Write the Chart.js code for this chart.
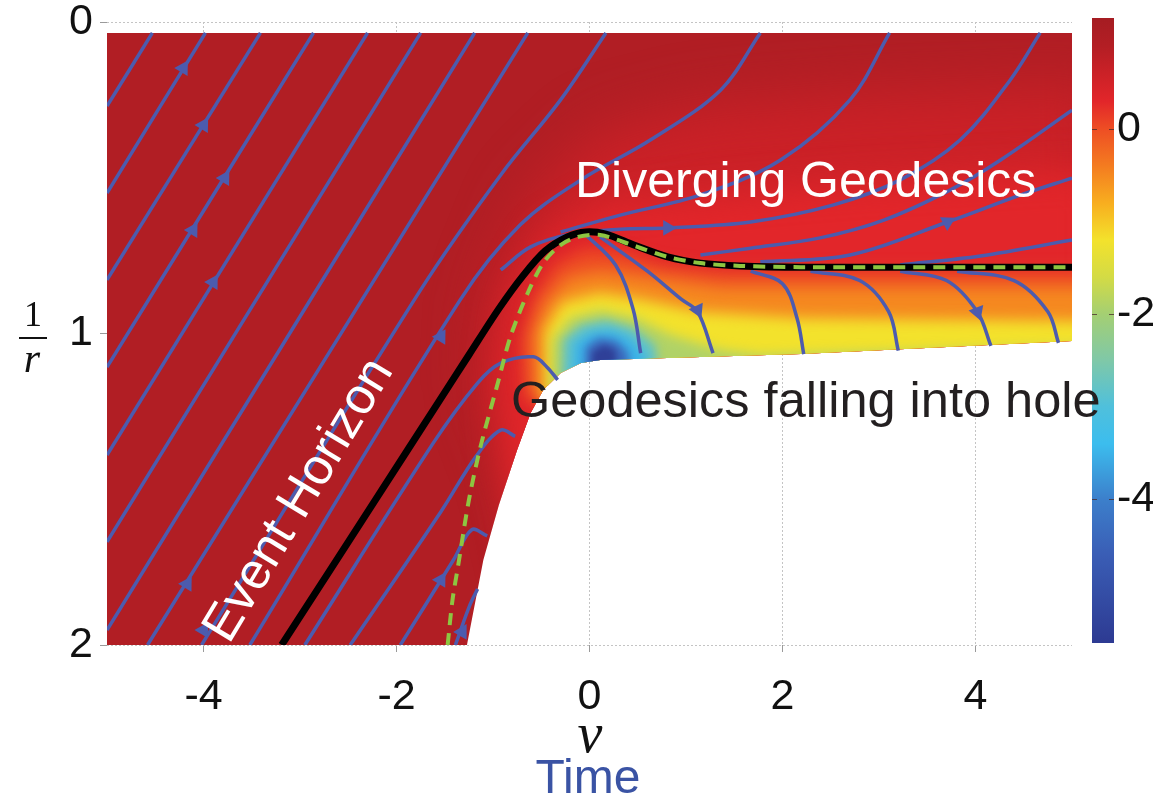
<!DOCTYPE html>
<html>
<head>
<meta charset="utf-8">
<script src="https://cdn.jsdelivr.net/npm/chart.js@4/dist/chart.umd.min.js"></script>
<style>
html, body { margin: 0; padding: 0; background: #fff; }
#wrap { position: relative; width: 1153px; height: 798px; }
canvas { position: absolute; top: 0; }
#main { left: 0; z-index: 2; }
#bar { left: 1053px; z-index: 1; }
</style>
</head>
<body>
<div id="wrap">
  <canvas id="main" width="1153" height="798"></canvas>
  <canvas id="bar" width="100" height="798"></canvas>
</div>
<script>
// axes
const xTicks = [-4, -2, 0, 2, 4];
const yTicks = [0, 1, 2];
const barTicks = [0, -2, -4];
const barRange = [-5.55, 1.2];

// colour map of the colour bar (value -> colour)
const cmapValues = [1.2, 0.9, 0.6, 0.3, 0.0, -0.4, -0.8, -1.2, -1.6, -2.0, -2.5, -3.0, -3.4, -4.0, -4.6, -5.55];
const cmapColors = ['#a51c22', '#b31e24', '#cb2127', '#e2262a', '#ee4e24', '#f47c20', '#f8ae1f', '#f3e22c',
                    '#d3db45', '#a4cf73', '#7fc8a8', '#4fc0dc', '#3cbdee', '#3c7fcb', '#3a5db5', '#2d3a92'];

// lower edge of the computed region (v, 1/r)
const domainEdge = [[-5, 2], [-1.27, 2], [-1.10, 1.727], [-0.94, 1.551], [-0.75, 1.374], [-0.61, 1.255],
                    [-0.48, 1.181], [-0.30, 1.127], [-0.09, 1.095], [0.11, 1.085], [2.19, 1.066], [5, 1.024]];
const domainTop = 0.035;
const backgroundLevel = 0.95;

// contours of the field
const fieldLevels = [0.6, 0.3, 0.0, -0.5, -1.2, -1.9, -2.8, -3.5, -4.4, -5.4];
const fieldContours = [
  [[-0.3, 2], [-0.72, 1.44], [-1.08, 1.15], [-1.03, 0.89], [-0.61, 0.57], [0.11, 0.35], [1.15, 0.27], [2.7, 0.23], [5.3, 0.2], [5.3, 2]],
  [[-0.51, 2], [-0.87, 1.44], [-0.95, 1.15], [-0.82, 0.89], [-0.46, 0.7], [0.11, 0.59], [1.15, 0.56], [2.7, 0.52], [5.3, 0.47], [5.3, 2]],
  [[-0.15, 1.28], [-0.66, 1.2], [-0.69, 1.02], [-0.56, 0.88], [-0.35, 0.78], [-0.04, 0.73], [0.32, 0.74], [0.74, 0.78], [1.36, 0.8], [5.3, 0.8], [5.3, 1.28]],
  [[-0.15, 1.28], [-0.56, 1.2], [-0.58, 1.0], [-0.46, 0.9], [-0.22, 0.82], [0.11, 0.8], [0.63, 0.82], [1.36, 0.85], [5.3, 0.85], [5.3, 1.28]],
  [[-0.15, 1.28], [-0.46, 1.2], [-0.46, 0.99], [-0.28, 0.9], [0.11, 0.87], [0.53, 0.89], [1.15, 0.93], [2.19, 0.95], [5.3, 0.96], [5.3, 1.28]],
  [[-0.40, 1.28], [-0.38, 1.02], [-0.20, 0.95], [0.11, 0.925], [0.48, 0.95], [0.84, 1.005], [1.36, 1.053], [1.77, 1.069], [5.3, 1.04], [5.3, 1.28]],
  [[-0.30, 1.28], [-0.27, 1.02], [-0.09, 0.973], [0.17, 0.957], [0.45, 0.982], [0.68, 1.037], [0.79, 1.28]],
  [[-0.20, 1.28], [-0.16, 1.03], [0.01, 0.995], [0.22, 0.989], [0.42, 1.011], [0.58, 1.069], [0.63, 1.28]],
  [[-0.07, 1.28], [-0.04, 1.043], [0.09, 1.014], [0.27, 1.021], [0.40, 1.059], [0.45, 1.28]],
  [[0.01, 1.28], [0.03, 1.059], [0.15, 1.037], [0.27, 1.053], [0.32, 1.28]]
];
const fieldBlur = [28, 18, 8, 8, 7, 6, 5, 5, 4, 3];

const horizon = [[-3.19, 2.0], [-2.22, 1.535], [-1.55, 1.213], [-1.25, 1.069], [-0.94, 0.921],
                 [-0.69, 0.815], [-0.46, 0.735], [-0.23, 0.690], [-0.04, 0.674], [0.17, 0.681], [0.46, 0.716],
                 [0.81, 0.754], [1.15, 0.774], [1.56, 0.783], [2.19, 0.787], [5, 0.787]];
const apparentHorizon = [[-1.47, 2.0], [-1.42, 1.856], [-1.36, 1.743], [-1.25, 1.535], [-1.13, 1.364], [-0.95, 1.159],
                         [-0.82, 1.011], [-0.64, 0.870], [-0.48, 0.774], [-0.30, 0.716], [-0.12, 0.690], [0.11, 0.684],
                         [0.46, 0.718], [0.81, 0.754], [1.15, 0.774], [1.56, 0.783], [2.19, 0.787], [5, 0.787]];

const streamlines = [
  [[-5, 0.27], [-4.53, 0.035]],
  [[-5, 0.549], [-3.98, 0.035]],
  [[-5, 0.828], [-3.41, 0.035]],
  [[-5, 1.108], [-2.86, 0.035]],
  [[-5, 1.39], [-2.30, 0.035]],
  [[-5, 1.669], [-1.75, 0.035]],
  [[-5, 1.952], [-1.19, 0.035]],
  [[-4.58, 2], [-0.64, 0.035]],
  [[-4.02, 2], [-1.75, 0.86], [-0.92, 0.491], [-0.30, 0.25], [0.17, 0.035]],
  [[-3.52, 2], [-1.34, 0.892], [-0.72, 0.652], [-0.09, 0.507], [0.63, 0.379], [1.36, 0.218], [1.77, 0.035]],
  [[-0.30, 0.674], [0.32, 0.62], [1.15, 0.555], [1.98, 0.443], [2.70, 0.25], [3.11, 0.035]],
  [[-0.92, 0.796], [-0.61, 0.722], [-0.20, 0.681], [0.32, 0.665], [0.81, 0.661], [1.67, 0.642], [2.53, 0.587],
   [3.22, 0.507], [3.84, 0.379], [4.36, 0.186], [4.67, 0.035]],
  [[1.15, 0.748], [1.67, 0.726], [2.39, 0.693], [3.05, 0.636], [3.74, 0.539], [4.26, 0.443], [5.0, 0.283]],
  [[1.77, 0.770], [2.70, 0.748], [3.71, 0.642], [4.47, 0.555], [5.0, 0.501]],
  [[3.22, 0.780], [4.05, 0.751], [5.0, 0.700]],
  [[-2.95, 2], [-1.62, 1.352], [-1.16, 1.159], [-0.92, 1.095], [-0.58, 1.075], [-0.44, 1.108], [-0.33, 1.149]],
  [[-2.48, 2], [-1.54, 1.572], [-1.17, 1.392], [-0.92, 1.31], [-0.77, 1.33]],
  [[-1.96, 2], [-1.41, 1.727], [-1.22, 1.63], [-1.06, 1.65]],
  [[-1.39, 2], [-1.24, 1.872], [-1.16, 1.82]],
  [[-0.07, 0.674], [0.27, 0.78], [0.45, 0.92], [0.53, 1.063]],
  [[0.11, 0.69], [0.6, 0.8], [0.95, 0.89], [1.12, 0.93], [1.28, 1.063]],
  [[1.67, 0.80], [2.0, 0.84], [2.15, 0.95], [2.22, 1.066]],
  [[2.29, 0.80], [2.8, 0.83], [3.1, 0.93], [3.2, 1.055]],
  [[3.22, 0.80], [3.7, 0.83], [4.02, 0.931], [4.16, 1.04]],
  [[3.81, 0.80], [4.4, 0.83], [4.75, 0.93], [4.86, 1.03]]
];

// arrow heads: v, 1/r, direction on screen (degrees, clockwise from up)
const arrows = [
  [-4.21, 0.148, 31], [-4.0, 0.331, 31], [-3.78, 0.501, 31], [-4.11, 0.668, 31], [-3.90, 0.835, 31],
  [-1.54, 1.011, 31], [-4.17, 1.804, 31], [-4.0, 1.952, 31], [-1.54, 1.791, 31], [-1.32, 1.958, 30],
  [0.81, 0.661, 90], [3.71, 0.642, 62], [1.12, 0.925, 155], [4.02, 0.931, 160]
];

const lineBlue = '#4c5bae';

function hexToRgb(h) {
  const n = parseInt(h.slice(1), 16);
  return [n >> 16 & 255, n >> 8 & 255, n & 255];
}

function colourAt(val) {
  if (val >= cmapValues[0]) return cmapColors[0];
  for (let i = 1; i < cmapValues.length; i++) {
    if (val >= cmapValues[i]) {
      const t = (val - cmapValues[i]) / (cmapValues[i - 1] - cmapValues[i]);
      const a = hexToRgb(cmapColors[i]), b = hexToRgb(cmapColors[i - 1]);
      const c = a.map((k, j) => Math.round(k + (b[j] - k) * t));
      return 'rgb(' + c.join(',') + ')';
    }
  }
  return cmapColors[cmapColors.length - 1];
}

const toXY = pts => pts.map(p => ({x: p[0], y: p[1]}));

// blur + clip the field layers to the computed region
const fieldFx = {
  id: 'fieldFx',
  beforeDatasetDraw(chart, args) {
    const ds = chart.data.datasets[args.index];
    if (!ds.blur) return;
    const ctx = chart.ctx, sx = chart.scales.x, sy = chart.scales.y;
    ctx.save();
    ctx.beginPath();
    domainEdge.forEach((p, i) => {
      const px = sx.getPixelForValue(p[0]), py = sy.getPixelForValue(p[1]);
      if (i) ctx.lineTo(px, py); else ctx.moveTo(px, py);
    });
    ctx.lineTo(sx.getPixelForValue(domainEdge[domainEdge.length - 1][0]), sy.getPixelForValue(domainTop));
    ctx.lineTo(sx.getPixelForValue(domainEdge[0][0]), sy.getPixelForValue(domainTop));
    ctx.closePath();
    ctx.clip();
    ctx.filter = 'blur(' + ds.blur + 'px)';
  },
  afterDatasetDraw(chart, args) {
    const ds = chart.data.datasets[args.index];
    if (ds.blur) chart.ctx.restore();
  }
};
// our hook has to run before the filler draws the areas
Chart.unregister(Chart.Filler);
Chart.register(fieldFx, Chart.Filler);

const labelsFx = {
  id: 'labelsFx',
  afterDraw(chart) {
    const ctx = chart.ctx;
    ctx.save();
    ctx.textBaseline = 'alphabetic';
    ctx.textAlign = 'left';
    ctx.font = '50px "Liberation Sans", Arial, sans-serif';
    ctx.fillStyle = '#fff';
    ctx.fillText('Diverging Geodesics', 575, 197);
    ctx.fillStyle = '#231f20';
    ctx.font = '50.5px "Liberation Sans", Arial, sans-serif';
    ctx.fillText('Geodesics falling into hole', 511, 417);
    ctx.save();
    ctx.translate(229, 645);
    ctx.rotate(-59 * Math.PI / 180);
    ctx.fillStyle = '#fff';
    ctx.font = '51px "Liberation Sans", Arial, sans-serif';
    ctx.fillText('Event Horizon', 0, 0);
    ctx.restore();

    // y axis title 1/r
    ctx.fillStyle = '#111';
    ctx.textAlign = 'center';
    ctx.font = '36px "Liberation Serif", serif';
    ctx.fillText('1', 33, 326);
    ctx.fillRect(19, 337, 28, 2);
    ctx.font = 'italic 42px "Liberation Serif", serif';
    ctx.fillText('r', 32, 372);
    // x axis title
    ctx.font = 'italic 56px "Liberation Serif", serif';
    ctx.fillText('v', 590, 752);
    ctx.fillStyle = '#3a53a4';
    ctx.font = '48px "Liberation Sans", Arial, sans-serif';
    ctx.fillText('Time', 588, 793);
    ctx.restore();
  }
};

const datasets = [];
datasets.push({
  label: 'field', data: toXY(domainEdge), fill: {value: domainTop},
  backgroundColor: colourAt(backgroundLevel), borderWidth: 0, pointRadius: 0, order: 100
});
fieldContours.forEach((c, i) => datasets.push({
  label: 'level ' + fieldLevels[i], data: toXY(c), fill: 'shape',
  backgroundColor: colourAt(fieldLevels[i]), borderWidth: 0, pointRadius: 0,
  blur: fieldBlur[i], order: 90 - i
}));
streamlines.forEach((s, i) => datasets.push({
  label: 'geodesic ' + i, data: toXY(s), borderColor: lineBlue, borderWidth: 3.5,
  pointRadius: 0, tension: 0.35, fill: false, order: 40
}));
datasets.push({
  label: 'event horizon', data: toXY(horizon), borderColor: '#000', borderWidth: 7,
  tension: 0.3, pointRadius: 0, fill: false, order: 20
});
datasets.push({
  label: 'apparent horizon', data: toXY(apparentHorizon), borderColor: '#8dc641', borderWidth: 4,
  borderDash: [12, 8], tension: 0.3, pointRadius: 0, fill: false, order: 10
});
datasets.push({
  type: 'scatter', label: 'arrows', data: arrows.map(a => ({x: a[0], y: a[1]})),
  pointStyle: 'triangle', pointRadius: 9, pointRotation: arrows.map(a => a[2]),
  backgroundColor: lineBlue, borderWidth: 0, order: 5
});

const tickFont = {family: '"Liberation Sans", Arial, sans-serif', size: 43, lineHeight: 1};

new Chart(document.getElementById('main'), {
  type: 'line',
  data: {datasets},
  options: {
    responsive: false, animation: false, devicePixelRatio: 1,
    layout: {padding: {top: 22, right: 81, left: 0, bottom: 0}},
    plugins: {legend: {display: false}, tooltip: {enabled: false}},
    scales: {
      x: {
        type: 'linear', min: -5, max: 5,
        afterBuildTicks: s => { s.ticks = xTicks.map(v => ({value: v})); },
        afterFit: s => { s.height = 153; },
        grid: {color: '#c4c4c4', lineWidth: 1, tickLength: 7, tickColor: '#9a9a9a'},
        border: {display: false, dash: [2, 2]},
        ticks: {padding: 24, color: '#111', font: tickFont}
      },
      y: {
        type: 'linear', reverse: true, min: 0, max: 2,
        afterBuildTicks: s => { s.ticks = yTicks.map(v => ({value: v})); },
        afterFit: s => { s.width = 107; },
        grid: {color: '#c4c4c4', lineWidth: 1, tickLength: 7, tickColor: '#9a9a9a'},
        border: {display: false, dash: [2, 2]},
        ticks: {padding: 7, color: '#111', font: Object.assign({}, tickFont, {lineHeight: 0.6})}
      }
    }
  },
  plugins: [labelsFx]
});

// colour bar
new Chart(document.getElementById('bar'), {
  type: 'bar',
  data: {
    labels: ['colour'],
    datasets: [{
      data: [barRange],
      barPercentage: 1, categoryPercentage: 1, borderWidth: 0,
      backgroundColor: c => {
        const chart = c.chart, area = chart.chartArea;
        if (!area) return cmapColors[0];
        const sy = chart.scales.y;
        const g = chart.ctx.createLinearGradient(0, area.top, 0, area.bottom);
        cmapValues.forEach((v, i) => {
          const t = (sy.getPixelForValue(v) - area.top) / (area.bottom - area.top);
          g.addColorStop(Math.min(1, Math.max(0, t)), cmapColors[i]);
        });
        return g;
      }
    }]
  },
  options: {
    responsive: false, animation: false, devicePixelRatio: 1,
    layout: {padding: {left: 39, top: 18, right: 0, bottom: 155}},
    plugins: {legend: {display: false}, tooltip: {enabled: false}},
    scales: {
      x: {display: false},
      y: {
        position: 'right', min: barRange[0], max: barRange[1],
        afterBuildTicks: s => { s.ticks = barTicks.map(v => ({value: v})); },
        afterFit: s => { s.width = 39; },
        grid: {z: 1, color: 'rgba(70,40,40,0.75)', drawTicks: false, lineWidth: 1},
        border: {display: false, dash: [5, 12]},
        ticks: {padding: 3, color: '#111', font: {family: '"Liberation Sans", Arial, sans-serif', size: 43, lineHeight: 0.5}}
      }
    }
  }
});
</script>
</body>
</html>
